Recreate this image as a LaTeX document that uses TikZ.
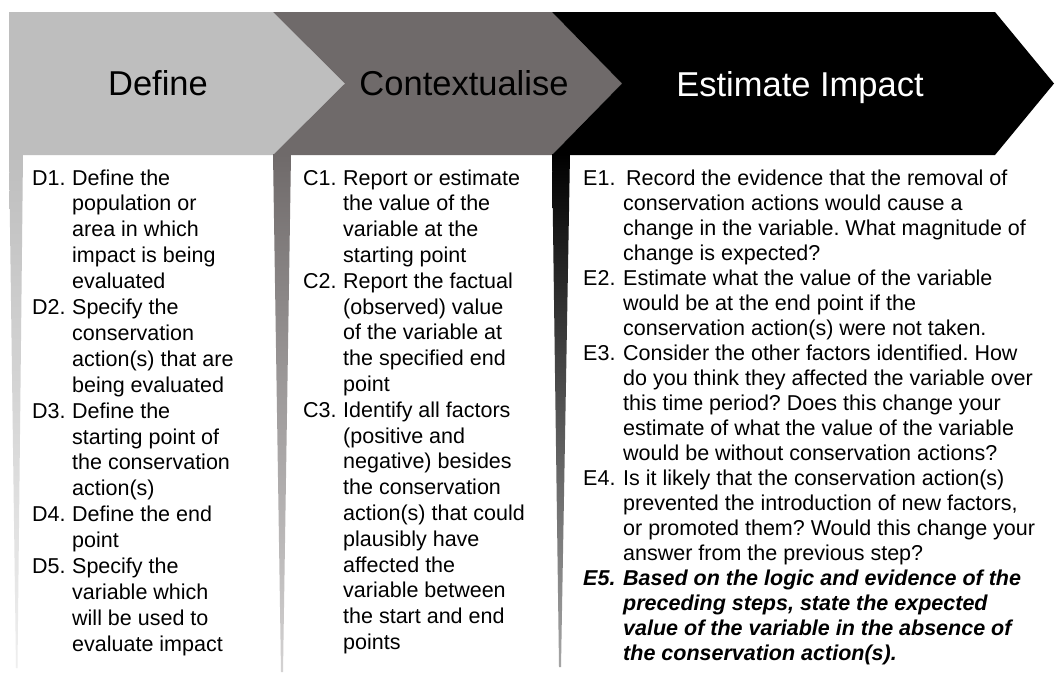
\documentclass[tikz,border=0pt]{standalone}
\usepackage{fontspec}
\setmainfont{Liberation Sans}
\definecolor{defgray}{RGB}{190,190,190}
\definecolor{ctxgray}{RGB}{111,106,106}
\definecolor{estblack}{RGB}{0,0,0}
% fixed-width step label (D1., C2., ...)
\newcommand\lbl[1]{\makebox[40pt][l]{#1}}
\newcommand\bodysize[1]{\fontsize{21.5pt}{#1}\selectfont\frenchspacing}
\begin{document}
\begin{tikzpicture}[x=1pt,y=-1pt,
  title/.style={anchor=base, inner sep=0pt, font=\fontsize{34.5pt}{40pt}\selectfont},
  steps/.style={anchor=base west, inner sep=0pt}]
\useasboundingbox (0,0) rectangle (1056,680);
\fill[white] (0,0) rectangle (1056,680);

% each stage: an arrow-shaped banner plus a tapering strip down the left of its column

% --- stage 1: Define ---
\fill[defgray] (9,12) -- (273,12) -- (345,83.5) -- (273,155) -- (9,155) -- cycle;
\shade[top color=defgray, middle color=defgray, bottom color=defgray!25!white]
  (9,154) -- (23,154) -- (17.5,668) -- (16,668) -- cycle;

% --- stage 2: Contextualise ---
\fill[ctxgray] (273,12) -- (552,12) -- (622,83.5) -- (552,155) -- (273,155) -- (345,83.5) -- cycle;
\shade[top color=ctxgray, middle color=ctxgray, bottom color=ctxgray!30!white]
  (273,154) -- (291,154) -- (283,672) -- (281,672) -- cycle;

% --- stage 3: Estimate Impact ---
\fill[estblack] (552,12) -- (995,12) -- (1054,83.5) -- (995,155) -- (552,155) -- (622,83.5) -- cycle;
\shade[top color=estblack, middle color=estblack, bottom color=estblack!35!white]
  (552,154) -- (570,154) -- (561,667) -- (559,667) -- cycle;

% stage titles
\node[title] (tdef) at (158,95) {Define};
\node[title] (tctx) at (464,95) {Contextualise};
\node[title, text=white] (test) at (800,96) {Estimate Impact};

% step lists
\node[steps] (dlist) at (32,185) {\bodysize{25.9pt}%
\begin{tabular}[t]{@{}l@{}l@{}}
\lbl{D1.}&Define the\\
&population or\\
&area in which\\
&impact is being\\
&evaluated\\
\lbl{D2.}&Specify the\\
&conservation\\
&action(s) that are\\
&being evaluated\\
\lbl{D3.}&Define the\\
&starting point of\\
&the conservation\\
&action(s)\\
\lbl{D4.}&Define the end\\
&point\\
\lbl{D5.}&Specify the\\
&variable which\\
&will be used to\\
&evaluate impact
\end{tabular}};

\node[steps] (clist) at (303,185) {\bodysize{25.8pt}%
\begin{tabular}[t]{@{}l@{}l@{}}
\lbl{C1.}&Report or estimate\\
&the value of the\\
&variable at the\\
&starting point\\
\lbl{C2.}&Report the factual\\
&(observed) value\\
&of the variable at\\
&the specified end\\
&point\\
\lbl{C3.}&Identify all factors\\
&(positive and\\
&negative) besides\\
&the conservation\\
&action(s) that could\\
&plausibly have\\
&affected the\\
&variable between\\
&the start and end\\
&points
\end{tabular}};

\node[steps] (elist) at (583,185) {\bodysize{25pt}%
\begin{tabular}[t]{@{}l@{}l@{}}
\lbl{E1.}&\hspace*{3pt}Record the evidence that the removal of\\
&conservation actions would cause a\\
&change in the variable. What magnitude of\\
&change is expected?\\
\lbl{E2.}&Estimate what the value of the variable\\
&would be at the end point if the\\
&conservation action(s) were not taken.\\
\lbl{E3.}&Consider the other factors identified. How\\
&do you think they affected the variable over\\
&this time period? Does this change your\\
&estimate of what the value of the variable\\
&would be without conservation actions?\\
\lbl{E4.}&Is it likely that the conservation action(s)\\
&prevented the introduction of new factors,\\
&or promoted them? Would this change your\\
&answer from the previous step?\\
\bfseries\itshape\lbl{E5.}&\bfseries\itshape Based on the logic and evidence of the\\
&\bfseries\itshape preceding steps, state the expected\\
&\bfseries\itshape value of the variable in the absence of\\
&\bfseries\itshape the conservation action(s).
\end{tabular}};
\end{tikzpicture}
\end{document}
